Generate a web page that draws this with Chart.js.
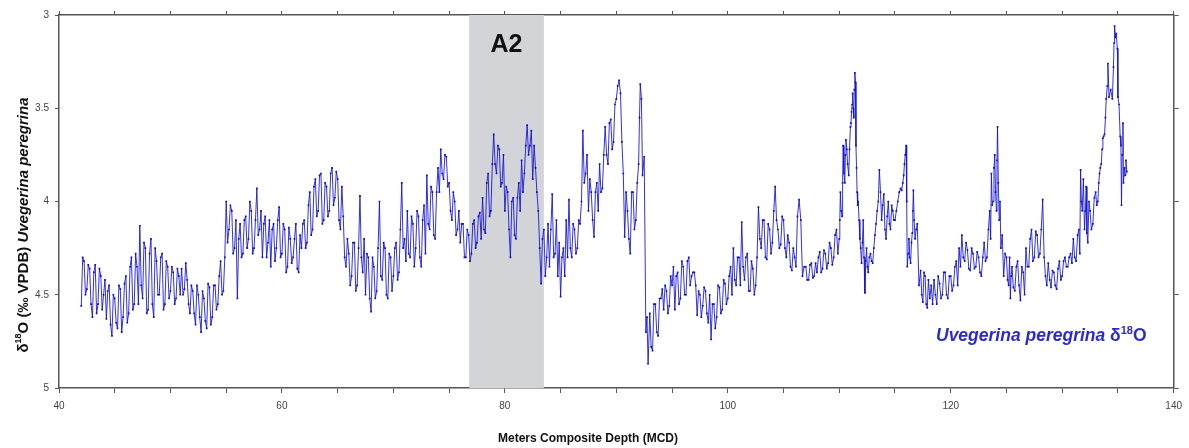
<!DOCTYPE html>
<html>
<head>
<meta charset="utf-8">
<title>Uvigerina peregrina d18O</title>
<script src="https://cdn.jsdelivr.net/npm/chart.js@4.4.0/dist/chart.umd.min.js"></script>
<style>
  html, body { margin: 0; padding: 0; background: #fff; }
  #wrap { width: 1189px; height: 448px; }
</style>
</head>
<body>
<div id="wrap"><canvas id="iso" width="1189" height="448"></canvas></div>
<script>
"use strict";

// depth (m MCD), one row per metre
var depths = [
  42.0, 42.125, 42.25, 42.375, 42.5, 42.625, 42.75, 42.875,
  43.0, 43.125, 43.25, 43.375, 43.5, 43.625, 43.75, 43.875,
  44.0, 44.125, 44.25, 44.375, 44.5, 44.625, 44.75, 44.875,
  45.0, 45.125, 45.25, 45.375, 45.5, 45.625, 45.75, 45.875,
  46.0, 46.125, 46.25, 46.375, 46.5, 46.625, 46.75, 46.875,
  47.0, 47.125, 47.25, 47.375, 47.5, 47.625, 47.75, 47.875,
  48.0, 48.125, 48.25, 48.375, 48.5, 48.625, 48.75, 48.875,
  49.0, 49.125, 49.25, 49.375, 49.5, 49.625, 49.75, 49.875,
  50.0, 50.125, 50.25, 50.375, 50.5, 50.625, 50.75, 50.875,
  51.0, 51.125, 51.25, 51.375, 51.5, 51.625, 51.75, 51.875,
  52.0, 52.125, 52.25, 52.375, 52.5, 52.625, 52.75, 52.875,
  53.0, 53.125, 53.25, 53.375, 53.5, 53.625, 53.75, 53.875,
  54.0, 54.125, 54.25, 54.375, 54.5, 54.625, 54.75, 54.875,
  55.0, 55.125, 55.25, 55.375, 55.5, 55.625, 55.75, 55.875,
  56.0, 56.125, 56.25, 56.375, 56.5, 56.625, 56.75, 56.875,
  57.0, 57.125, 57.25, 57.375, 57.5, 57.625, 57.75, 57.875,
  58.0, 58.125, 58.25, 58.375, 58.5, 58.625, 58.75, 58.875,
  59.0, 59.125, 59.25, 59.375, 59.5, 59.625, 59.75, 59.875,
  60.0, 60.125, 60.25, 60.375, 60.5, 60.625, 60.75, 60.875,
  61.0, 61.125, 61.25, 61.375, 61.5, 61.625, 61.75, 61.875,
  62.0, 62.125, 62.25, 62.375, 62.5, 62.625, 62.75, 62.875,
  63.0, 63.125, 63.25, 63.375, 63.5, 63.625, 63.75, 63.875,
  64.0, 64.125, 64.25, 64.375, 64.5, 64.625, 64.75, 64.875,
  65.0, 65.125, 65.25, 65.375, 65.5, 65.625, 65.75, 65.875,
  66.0, 66.125, 66.25, 66.375, 66.5, 66.625, 66.75, 66.875,
  67.0, 67.125, 67.25, 67.375, 67.5, 67.625, 67.75, 67.875,
  68.0, 68.125, 68.25, 68.375, 68.5, 68.625, 68.75, 68.875,
  69.0, 69.125, 69.25, 69.375, 69.5, 69.625, 69.75, 69.875,
  70.0, 70.125, 70.25, 70.375, 70.5, 70.625, 70.75, 70.875,
  71.0, 71.125, 71.25, 71.375, 71.5, 71.625, 71.75, 71.875,
  72.0, 72.125, 72.25, 72.375, 72.5, 72.625, 72.75, 72.875,
  73.0, 73.125, 73.25, 73.375, 73.5, 73.625, 73.75, 73.875,
  74.0, 74.125, 74.25, 74.375, 74.5, 74.625, 74.75, 74.875,
  75.0, 75.125, 75.25, 75.375, 75.5, 75.625, 75.75, 75.875,
  76.0, 76.125, 76.25, 76.375, 76.5, 76.625, 76.75, 76.875,
  77.0, 77.125, 77.25, 77.375, 77.5, 77.625, 77.75, 77.875,
  78.0, 78.125, 78.25, 78.375, 78.5, 78.625, 78.75, 78.875,
  79.0, 79.125, 79.25, 79.375, 79.5, 79.625, 79.75, 79.875,
  80.0, 80.125, 80.25, 80.375, 80.5, 80.625, 80.75, 80.875,
  81.0, 81.125, 81.25, 81.375, 81.5, 81.625, 81.75, 81.875,
  82.0, 82.125, 82.25, 82.375, 82.5, 82.625, 82.75, 82.875,
  83.0, 83.125, 83.25, 83.375, 83.5, 83.625, 83.75, 83.875,
  84.0, 84.125, 84.25, 84.375, 84.5, 84.625, 84.75, 84.875,
  85.0, 85.125, 85.25, 85.375, 85.5, 85.625, 85.75, 85.875,
  86.0, 86.125, 86.25, 86.375, 86.5, 86.625, 86.75, 86.875,
  87.0, 87.125, 87.25, 87.375, 87.5, 87.625, 87.75, 87.875,
  88.0, 88.125, 88.25, 88.375, 88.5, 88.625, 88.75, 88.875,
  89.0, 89.125, 89.25, 89.375, 89.5, 89.625, 89.75, 89.875,
  90.0, 90.125, 90.25, 90.375, 90.5, 90.625, 90.75, 90.875,
  91.0, 91.125, 91.25, 91.375, 91.5, 91.625, 91.75, 91.875,
  92.0, 92.08, 92.15, 92.25, 92.35, 92.5, 92.65, 92.75, 92.85,
  93.0, 93.125, 93.25, 93.375, 93.5, 93.625, 93.75, 93.875,
  94.0, 94.125, 94.25, 94.375, 94.5, 94.625, 94.75, 94.875,
  95.0, 95.125, 95.25, 95.375, 95.5, 95.625, 95.75, 95.875,
  96.0, 96.125, 96.25, 96.375, 96.5, 96.625, 96.75, 96.875,
  97.0, 97.125, 97.25, 97.375, 97.5, 97.625, 97.75, 97.875,
  98.0, 98.125, 98.25, 98.375, 98.5, 98.625, 98.75, 98.875,
  99.0, 99.125, 99.25, 99.375, 99.5, 99.625, 99.75, 99.875,
  100.0, 100.125, 100.25, 100.375, 100.5, 100.625, 100.75, 100.875,
  101.0, 101.125, 101.25, 101.375, 101.5, 101.625, 101.75, 101.875,
  102.0, 102.125, 102.25, 102.375, 102.5, 102.625, 102.75, 102.875,
  103.0, 103.125, 103.25, 103.375, 103.5, 103.625, 103.75, 103.875,
  104.0, 104.125, 104.25, 104.375, 104.5, 104.625, 104.75, 104.875,
  105.0, 105.125, 105.25, 105.375, 105.5, 105.625, 105.75, 105.875,
  106.0, 106.12, 106.25, 106.4, 106.55, 106.7, 106.85,
  107.0, 107.125, 107.25, 107.375, 107.5, 107.625, 107.75, 107.875,
  108.0, 108.125, 108.25, 108.375, 108.5, 108.625, 108.75, 108.875,
  109.0, 109.125, 109.25, 109.375, 109.5, 109.625, 109.75, 109.875,
  110.0, 110.05, 110.1, 110.17, 110.25, 110.3, 110.35, 110.42, 110.5, 110.55, 110.6, 110.68, 110.75, 110.85, 110.92,
  111.0, 111.05, 111.1, 111.15, 111.2, 111.25, 111.3, 111.35, 111.4, 111.45, 111.5, 111.55, 111.6, 111.65, 111.7, 111.78, 111.85, 111.92,
  112.0, 112.08, 112.15, 112.22, 112.3, 112.38, 112.45, 112.52, 112.6, 112.7, 112.8, 112.9,
  113.0, 113.1, 113.2, 113.3, 113.4, 113.5, 113.6, 113.7, 113.8, 113.9,
  114.0, 114.1, 114.2, 114.3, 114.4, 114.5, 114.6, 114.7, 114.8, 114.9,
  115.0, 115.12, 115.25, 115.38, 115.5, 115.6, 115.7, 115.78, 115.85, 115.92,
  116.0, 116.05, 116.1, 116.18, 116.25, 116.32, 116.4, 116.48, 116.55, 116.6, 116.65, 116.72, 116.8, 116.9,
  117.0, 117.15, 117.3, 117.4, 117.5, 117.6, 117.7, 117.8, 117.9,
  118.0, 118.125, 118.25, 118.375, 118.5, 118.625, 118.75, 118.875,
  119.0, 119.125, 119.25, 119.375, 119.5, 119.625, 119.75, 119.875,
  120.0, 120.125, 120.25, 120.375, 120.5, 120.625, 120.75, 120.875,
  121.0, 121.125, 121.25, 121.375, 121.5, 121.625, 121.75, 121.875,
  122.0, 122.125, 122.25, 122.375, 122.5, 122.625, 122.75, 122.875,
  123.0, 123.12, 123.25, 123.38, 123.5, 123.58, 123.65, 123.72, 123.8, 123.88, 123.95,
  124.02, 124.1, 124.15, 124.2, 124.27, 124.35, 124.42, 124.5, 124.62, 124.75, 124.88,
  125.0, 125.1, 125.2, 125.28, 125.35, 125.42, 125.5, 125.62, 125.75, 125.88,
  126.0, 126.125, 126.25, 126.375, 126.5, 126.625, 126.75, 126.875,
  127.0, 127.125, 127.25, 127.375, 127.5, 127.625, 127.75, 127.875,
  128.0, 128.12, 128.25, 128.38, 128.5, 128.62, 128.75, 128.88,
  129.0, 129.125, 129.25, 129.375, 129.5, 129.625, 129.75, 129.875,
  130.0, 130.125, 130.25, 130.375, 130.5, 130.625, 130.75, 130.875,
  131.0, 131.12, 131.25, 131.38, 131.5, 131.58, 131.65, 131.72, 131.8, 131.9,
  132.0, 132.08, 132.15, 132.22, 132.3, 132.4, 132.5, 132.62, 132.75, 132.88,
  133.0, 133.1, 133.2, 133.28, 133.35, 133.42, 133.5, 133.58, 133.65, 133.72, 133.8, 133.88, 133.95,
  134.05, 134.1, 134.2, 134.35, 134.5, 134.6, 134.65, 134.7, 134.78, 134.85, 134.95,
  135.0, 135.1, 135.2, 135.27, 135.32, 135.38, 135.45, 135.5, 135.58, 135.65, 135.72, 135.8
];

// benthic d18O (permil VPDB), same rows as depths
var d18O = [
  4.56, 4.30, 4.32, 4.50, 4.47, 4.34, 4.36, 4.55,
  4.62, 4.38, 4.34, 4.60, 4.55, 4.36, 4.40, 4.58,
  4.50, 4.42, 4.63, 4.48, 4.45, 4.66, 4.72, 4.50,
  4.52, 4.65, 4.68, 4.45, 4.47, 4.70, 4.62, 4.44,
  4.40, 4.65, 4.60, 4.35, 4.30, 4.58, 4.55, 4.28,
  4.35, 4.55, 4.13, 4.45, 4.52, 4.22, 4.25, 4.60,
  4.58, 4.28, 4.20, 4.55, 4.62, 4.25, 4.32, 4.50,
  4.50, 4.30, 4.28, 4.58, 4.55, 4.32, 4.35, 4.52,
  4.48, 4.35, 4.38, 4.55, 4.52, 4.36, 4.40, 4.50,
  4.36, 4.50, 4.47, 4.33, 4.42, 4.55, 4.60, 4.45,
  4.48, 4.60, 4.66, 4.45, 4.50, 4.62, 4.70, 4.48,
  4.52, 4.64, 4.68, 4.44, 4.46, 4.66, 4.62, 4.45,
  4.45, 4.58, 4.55, 4.40, 4.32, 4.50, 4.48, 4.30,
  4.00, 4.22, 4.15, 4.02, 4.05, 4.28, 4.25, 4.10,
  4.52, 4.20, 4.12, 4.30, 4.28, 4.10, 4.08, 4.25,
  4.20, 4.00, 4.05, 4.28, 4.25, 4.10, 3.93, 4.18,
  4.15, 4.05, 4.30, 4.12, 4.08, 4.30, 4.22, 4.10,
  4.35, 4.15, 4.12, 4.32, 4.25, 4.10, 4.03, 4.30,
  4.28, 4.12, 4.15, 4.38, 4.35, 4.14, 4.20, 4.33,
  4.30, 4.20, 4.12, 4.36, 4.38, 4.18, 4.25, 4.12,
  4.10, 4.25, 4.22, 4.02, 3.95, 4.18, 4.15, 3.92,
  3.88, 4.08, 4.05, 3.86, 3.85, 4.12, 4.10, 3.90,
  3.92, 4.08, 4.05, 3.85, 3.82, 4.02, 3.98, 3.84,
  3.88, 4.10, 4.15, 3.92, 4.08, 4.30, 4.35, 4.20,
  4.28, 4.45, 4.40, 4.22, 4.22, 4.48, 4.45, 4.25,
  3.97, 4.30, 4.38, 4.20, 4.50, 4.28, 4.30, 4.52,
  4.59, 4.30, 4.35, 4.52, 4.48, 4.25, 4.00, 4.40,
  4.42, 4.22, 4.25, 4.50, 4.52, 4.28, 4.30, 4.48,
  4.40, 4.25, 4.22, 4.42, 4.38, 4.15, 3.90, 4.25,
  4.20, 4.32, 4.05, 4.28, 4.30, 4.08, 4.12, 4.35,
  4.25, 4.05, 4.08, 4.30, 4.35, 4.10, 4.02, 4.28,
  3.86, 4.12, 4.15, 3.92, 3.95, 4.18, 4.20, 3.95,
  3.82, 3.95, 3.72, 3.85, 3.88, 3.75, 3.76, 3.92,
  3.90, 4.05, 4.10, 3.95, 4.00, 4.18, 4.15, 4.05,
  4.22, 4.12, 4.12, 4.30, 4.30, 4.15, 4.18, 4.32,
  4.28, 4.12, 4.10, 4.25, 4.22, 4.08, 4.06, 4.20,
  3.98, 4.15, 4.17, 3.90, 3.85, 4.08, 4.05, 3.80,
  3.64, 3.80, 3.85, 3.70, 3.72, 3.92, 3.90, 3.75,
  4.05, 3.92, 3.95, 4.15, 4.30, 4.00, 3.98, 4.18,
  4.20, 3.98, 3.90, 4.05, 3.78, 3.95, 3.85, 3.70,
  3.59, 3.75, 3.70, 3.62, 3.88, 3.70, 3.82, 3.95,
  4.05, 4.25, 4.44, 4.20, 4.15, 4.40, 4.30, 4.12,
  4.35, 4.15, 3.96, 4.30, 4.28, 4.10, 4.40, 4.22,
  4.51, 4.30, 4.25, 4.40, 4.10, 4.30, 3.99, 4.25,
  4.30, 4.12, 4.15, 4.28, 4.25, 4.10, 4.12, 4.00,
  3.62, 3.90, 3.85, 3.75, 4.05, 3.88, 3.95, 4.10,
  4.19, 3.95, 3.90, 4.05, 3.80, 3.95, 3.93, 3.75,
  3.60, 3.75, 3.80, 3.58, 3.56, 3.72, 3.68, 3.48,
  3.45, 3.38, 3.35, 3.42, 3.68, 3.85, 4.19, 3.95,
  4.05, 4.20, 4.28, 3.95, 3.95, 4.15, 4.10, 3.90,
  3.80, 3.55, 3.37, 3.45, 3.86, 3.76, 4.70, 4.62, 4.87,
  4.60, 4.78, 4.80, 4.55, 4.55, 4.70, 4.72, 4.52,
  4.52, 4.47, 4.58, 4.45, 4.48, 4.60, 4.56, 4.40,
  4.45, 4.35, 4.58, 4.40, 4.38, 4.55, 4.52, 4.32,
  4.35, 4.50, 4.50, 4.32, 4.30, 4.45, 4.40, 4.38,
  4.38, 4.45, 4.61, 4.48, 4.50, 4.62, 4.56, 4.46,
  4.48, 4.60, 4.65, 4.50, 4.74, 4.55, 4.55, 4.68,
  4.62, 4.45, 4.46, 4.60, 4.58, 4.42, 4.44, 4.55,
  4.52, 4.40, 4.35, 4.50, 4.25, 4.42, 4.45, 4.30,
  4.30, 4.45, 4.11, 4.35, 4.42, 4.30, 4.28, 4.48,
  4.48, 4.32, 4.36, 4.50, 4.45, 4.30, 4.03, 4.20,
  4.25, 4.10, 4.10, 4.30, 4.31, 4.12, 4.15, 4.28,
  4.22, 4.05, 3.92, 4.10, 4.15, 4.25, 4.23, 4.08,
  4.10, 4.25, 4.30, 4.18, 4.22, 4.35, 4.37, 4.25,
  4.30, 4.35, 4.08, 3.99, 4.10, 4.40, 4.35,
  4.35, 4.42, 4.42, 4.34, 4.33, 4.41, 4.40, 4.33,
  4.38, 4.30, 4.27, 4.38, 4.36, 4.26, 4.28, 4.36,
  4.33, 4.22, 4.25, 4.34, 4.30, 4.18, 4.15, 4.28,
  4.20, 4.10, 3.95, 4.05, 4.08, 3.90, 3.70, 3.85, 3.90, 3.75, 3.67, 3.72, 3.80, 3.86, 3.72,
  3.60, 3.58, 3.52, 3.48, 3.42, 3.50, 3.55, 3.40, 3.31, 3.36, 3.70, 3.82, 3.95, 4.02, 4.00, 4.10, 4.20, 4.25,
  4.33, 4.22, 4.10, 4.30, 4.49, 4.32, 4.25, 4.35, 4.38, 4.30, 4.28, 4.32,
  4.33, 4.25, 4.18, 4.12, 4.05, 4.00, 3.83, 3.95, 4.10, 4.02,
  3.96, 4.15, 4.20, 4.08, 4.00, 4.12, 4.15, 4.02, 4.05, 4.10,
  4.10, 4.05, 4.00, 3.95, 3.93, 3.94, 3.90, 3.86, 3.80, 3.75,
  3.70, 4.00, 4.35, 4.28, 4.20, 4.30, 4.33, 4.22, 4.17, 4.05, 3.94, 4.10, 4.20, 4.15,
  4.12, 4.45, 4.37, 4.50, 4.54, 4.38, 4.40, 4.55, 4.57,
  4.42, 4.52, 4.45, 4.55, 4.42, 4.50, 4.55, 4.40,
  4.44, 4.52, 4.50, 4.38, 4.38, 4.50, 4.52, 4.40,
  4.40, 4.48, 4.45, 4.35, 4.32, 4.45, 4.25, 4.35,
  4.18, 4.30, 4.32, 4.22, 4.26, 4.36, 4.37, 4.25,
  4.28, 4.36, 4.35, 4.27, 4.30, 4.38, 4.40, 4.30,
  4.22, 4.32, 4.30, 4.15, 4.05, 4.20, 3.85, 4.02, 4.00, 3.82, 3.75,
  3.95, 4.05, 3.78, 3.60, 3.90, 4.10, 4.00, 4.25, 4.18, 4.40, 4.28,
  4.30, 4.42, 4.45, 4.30, 4.52, 4.40, 4.35, 4.46, 4.48, 4.35,
  4.32, 4.45, 4.53, 4.35, 4.38, 4.50, 4.25, 4.35,
  4.35, 4.20, 4.15, 4.32, 4.30, 4.16, 4.18, 4.30,
  4.28, 4.15, 3.99, 4.30, 4.40, 4.45, 4.33, 4.42,
  4.46, 4.37, 4.38, 4.45, 4.47, 4.36, 4.32, 4.42,
  4.40, 4.32, 4.30, 4.35, 4.35, 4.30, 4.28, 4.33,
  4.20, 4.30, 4.32, 4.18, 4.15, 4.28, 3.83, 4.00, 4.05, 3.88,
  4.15, 4.05, 3.92, 4.17, 4.22, 4.00, 4.05, 4.15, 4.12, 3.98,
  3.95, 4.02, 4.00, 3.90, 3.85, 3.82, 3.80, 3.72, 3.66, 3.65, 3.64, 3.55, 3.45,
  3.38, 3.26, 3.44, 3.40, 3.45, 3.28, 3.15, 3.06, 3.12, 3.10, 3.18,
  3.44, 3.48, 3.65, 3.70, 4.02, 3.75, 3.58, 3.90, 3.82, 3.86, 3.78, 3.84
];

var xLabels = [40, 60, 80, 100, 120, 140];
var yLabels = [3, 3.5, 4, 4.5, 5];
var bandA2 = [76.8, 83.5];

var points = depths.map(function (d, i) {
    return {x: d, y: d18O[i]};
});

// shaded interval behind the record
var bandPlugin = {
    id: 'bandA2',
    beforeDatasetsDraw: function (chart) {
        var ctx = chart.ctx, area = chart.chartArea, xs = chart.scales.x;
        var x0 = xs.getPixelForValue(bandA2[0]);
        var x1 = xs.getPixelForValue(bandA2[1]);
        ctx.save();
        ctx.fillStyle = '#d3d4d8';
        ctx.fillRect(x0, area.top, x1 - x0, area.bottom - area.top);
        ctx.fillStyle = '#111';
        ctx.font = 'bold 25px "Liberation Sans", Arial, sans-serif';
        ctx.textAlign = 'center';
        ctx.textBaseline = 'alphabetic';
        ctx.fillText('A2', (x0 + x1) / 2, 52);
        ctx.restore();
    }
};

// draw a run of text pieces with their own fonts, returning total width
function drawRuns(ctx, runs, x, y, measureOnly) {
    var w = 0;
    runs.forEach(function (r) {
        ctx.font = r.font;
        if (!measureOnly) ctx.fillText(r.t, x + w, y + (r.dy || 0));
        w += ctx.measureText(r.t).width;
    });
    return w;
}

var labelPlugin = {
    id: 'labels',
    afterDraw: function (chart) {
        var ctx = chart.ctx;
        ctx.save();
        ctx.textBaseline = 'alphabetic';
        ctx.textAlign = 'left';

        // x axis title
        ctx.fillStyle = '#111';
        ctx.font = 'bold 12px "Liberation Sans", Arial, sans-serif';
        ctx.textAlign = 'center';
        ctx.fillText('Meters Composite Depth (MCD)', 588, 442);
        ctx.textAlign = 'left';

        // y axis title, rotated
        var bf = '"Liberation Sans", Arial, sans-serif';
        var yRuns = [
            {t: '\u03B4', font: 'bold 15px ' + bf},
            {t: '18', font: 'bold 9px ' + bf, dy: -7},
            {t: 'O (\u2030 VPDB) ', font: 'bold 15px ' + bf},
            {t: 'Uvegerina peregrina', font: 'italic bold 15px ' + bf}
        ];
        var tw = drawRuns(ctx, yRuns, 0, 0, true);
        ctx.translate(28, 225);
        ctx.rotate(-Math.PI / 2);
        drawRuns(ctx, yRuns, -tw / 2, 0, false);
        ctx.setTransform(1, 0, 0, 1, 0, 0);

        // series label
        ctx.fillStyle = '#2a2ad2';
        var lRuns = [
            {t: 'Uvegerina peregrina ', font: 'italic bold 17.5px ' + bf},
            {t: '\u03B4', font: 'bold 17.5px ' + bf},
            {t: '18', font: 'bold 11px ' + bf, dy: -7},
            {t: 'O', font: 'bold 17.5px ' + bf}
        ];
        drawRuns(ctx, lRuns, 936, 341, false);
        ctx.restore();
    }
};

var axisColor = '#555';
var tickFont = {family: '"Liberation Sans", Arial, sans-serif', size: 10};

var ctx = document.getElementById('iso').getContext('2d');
var isoChart = new Chart(ctx, {
    type: 'line',
    data: {
        datasets: [{
            label: 'Uvegerina peregrina d18O',
            data: points,
            borderColor: 'rgba(15, 15, 215, 0.85)',
            borderWidth: 1,
            pointRadius: 1.2,
            pointStyle: 'rect',
            pointBackgroundColor: '#1010c8',
            pointBorderColor: '#1010c8',
            pointBorderWidth: 0,
            tension: 0
        }]
    },
    options: {
        responsive: false,
        animation: false,
        devicePixelRatio: 1,
        layout: {padding: 0},
        plugins: {
            legend: {display: false},
            tooltip: {enabled: false}
        },
        scales: {
            x: {
                type: 'linear', position: 'bottom', min: 40, max: 140,
                ticks: {
                    stepSize: 5, autoSkip: false, maxRotation: 0, padding: 7,
                    color: '#444', font: tickFont,
                    callback: function (v) { return xLabels.indexOf(v) >= 0 ? String(v) : ''; }
                },
                grid: {drawOnChartArea: false, tickLength: 5, color: axisColor, lineWidth: 1},
                border: {color: axisColor, width: 1.5},
                afterFit: function (s) { s.height = 60; }
            },
            xTop: {
                type: 'linear', position: 'top', min: 40, max: 140,
                ticks: {stepSize: 5, autoSkip: false, callback: function () { return ''; }},
                grid: {drawOnChartArea: false, tickLength: 4, color: axisColor, lineWidth: 1},
                border: {color: axisColor, width: 1.5},
                afterFit: function (s) { s.height = 15; }
            },
            y: {
                type: 'linear', position: 'left', reverse: true, min: 3, max: 5,
                ticks: {
                    stepSize: 0.5, padding: 6, color: '#444', font: tickFont,
                    callback: function (v) { return yLabels.indexOf(v) >= 0 ? String(v) : ''; }
                },
                grid: {drawOnChartArea: false, tickLength: 4, color: axisColor, lineWidth: 1},
                border: {color: axisColor, width: 1.5},
                afterFit: function (s) { s.width = 59; }
            },
            yRight: {
                type: 'linear', position: 'right', reverse: true, min: 3, max: 5,
                ticks: {stepSize: 0.5, callback: function () { return ''; }},
                grid: {drawOnChartArea: false, tickLength: 5, color: axisColor, lineWidth: 1},
                border: {color: axisColor, width: 1.5},
                afterFit: function (s) { s.width = 13; }
            }
        }
    },
    plugins: [bandPlugin, labelPlugin]
});
</script>
</body>
</html>
